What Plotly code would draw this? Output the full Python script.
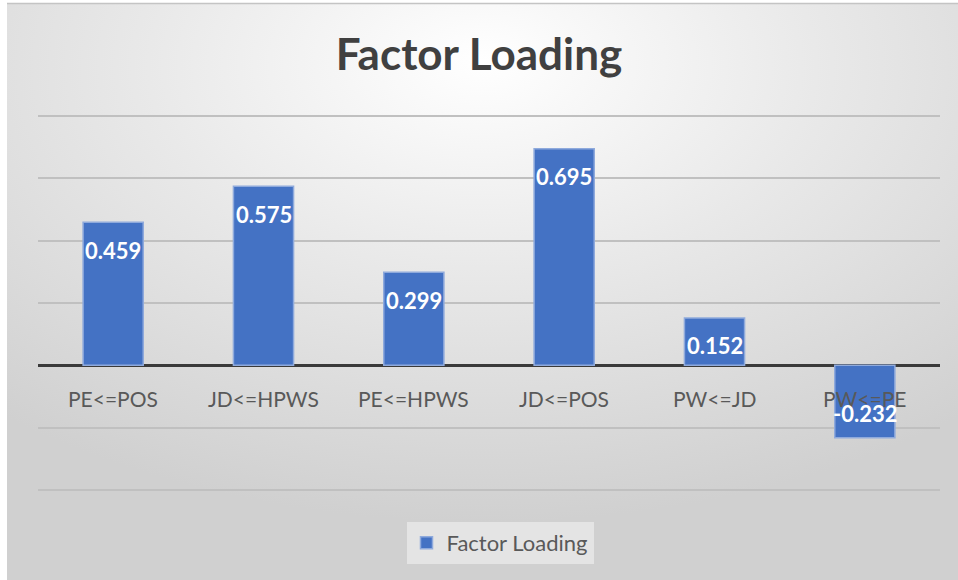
import base64
import plotly.graph_objects as go

categories = ["PE<=POS", "JD<=HPWS", "PE<=HPWS", "JD<=POS", "PW<=JD", "PW<=PE"]
loadings = [0.459, 0.575, 0.299, 0.695, 0.152, -0.232]
labels = ["0.459", "0.575", "0.299", "0.695", "0.152", "-0.232"]
series_name = "Factor Loading"
y_min, y_max, y_step = -0.4, 0.8, 0.2

W, H = 958, 580
PAD = 2  # px of extra room so edge gridlines are drawn
ML, MR, MT, MB = 38, 18, 116 - PAD, 90 - PAD
PW, PH = W - ML - MR, H - MT - MB
k = (PH - 2 * PAD) / (y_max - y_min)  # px per unit
FONT = "Lato, 'Open Sans', sans-serif"

# background: radial grey gradient (pure styling)
svg = f"""<svg xmlns='http://www.w3.org/2000/svg' width='{W}' height='{H}' viewBox='0 0 {W} {H}'>
<defs><radialGradient id='g' cx='50%' cy='12%' r='78%' fx='50%' fy='10%'>
<stop offset='0' stop-color='#ffffff'/>
<stop offset='0.45' stop-color='#e9e9e9'/>
<stop offset='1' stop-color='#d0d0d0'/>
</radialGradient></defs>
<rect x='0' y='0' width='{W}' height='{H}' fill='#ffffff'/>
<rect x='7' y='3' width='{W-7}' height='{H-3}' fill='url(#g)'/>
<line x1='7' y1='3.5' x2='{W}' y2='3.5' stroke='#c4c4c4' stroke-width='1.5'/>
</svg>"""
bg_src = "data:image/svg+xml;base64," + base64.b64encode(svg.encode()).decode()

fig = go.Figure()
fig.add_trace(go.Bar(
    x=categories, y=loadings, name=series_name,
    marker=dict(color="#4472C4", line=dict(color="#8FAADC", width=1.5)),
    cliponaxis=False,
))

annotations = []
for c in categories:
    annotations.append(dict(x=c, y=0, xref="x", yref="y", text=c, showarrow=False,
                            yanchor="middle", yshift=-33,
                            font=dict(family=FONT, size=21, color="#595959")))
for c, v, t in zip(categories, loadings, labels):
    annotations.append(dict(x=c, y=v, xref="x", yref="y", text=f"<b>{t}</b>", showarrow=False,
                            yanchor="middle", yshift=(-28 if v >= 0 else 24),
                            font=dict(family=FONT, size=22, color="white")))

fig.update_layout(
    width=W, height=H,
    margin=dict(l=ML, r=MR, t=MT, b=MB),
    paper_bgcolor="white",
    plot_bgcolor="rgba(0,0,0,0)",
    images=[dict(source=bg_src, xref="paper", yref="paper",
                 x=-ML / PW, y=1 + MT / PH, sizex=W / PW, sizey=H / PH,
                 xanchor="left", yanchor="top", sizing="stretch", layer="below")],
    annotations=annotations,
    title=dict(text="<b>Factor Loading</b>", x=0.5, xanchor="center", y=1 - 55 / H, yanchor="middle",
               font=dict(family=FONT, size=44, color="#404040")),
    bargap=0.6,
    showlegend=True,
    legend=dict(orientation="h", x=0.5 + 11 / PW, xanchor="center", y=-(543 - (H - MB)) / PH,
                yanchor="middle", bgcolor="#e4e4e4",
                font=dict(family=FONT, size=22, color="#595959"),
                itemwidth=30),
    xaxis=dict(showticklabels=False, showgrid=False, zeroline=False, showline=False, ticks=""),
    yaxis=dict(range=[y_min - PAD / k, y_max + PAD / k], tickmode="linear", tick0=0, dtick=y_step,
               showticklabels=False, showgrid=True,
               gridcolor="#c0c0c0", gridwidth=1.5,
               zeroline=True, zerolinecolor="#3a3a3a", zerolinewidth=2.5, showline=False),
)

fig.write_html("out.html", config={"displayModeBar": False},
               post_script="document.body.style.margin='0';document.body.style.padding='0';")
